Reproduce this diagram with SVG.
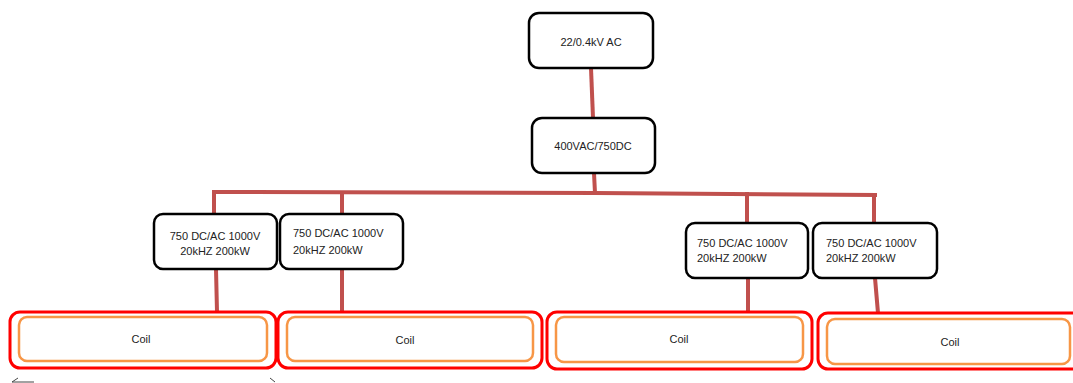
<svg xmlns="http://www.w3.org/2000/svg" width="1073" height="383" viewBox="0 0 1073 383">
<style>
.box{fill:#fff;stroke:#000;stroke-width:2.5}
.coilo{fill:#fff;stroke:#ff0000;stroke-width:3}
.coili{fill:#fff;stroke:#f79646;stroke-width:2.5}
.t{font-family:"Liberation Sans",Arial,sans-serif;font-size:11px;fill:#222}
.c{text-anchor:middle}
.w{fill:none;stroke:#c0504d;stroke-width:4;stroke-linecap:square}
</style>
<rect width="1073" height="383" fill="#fff"/>
<g id="connectors">
<path class="w" d="M591 68 L593 118"/>
<path class="w" d="M594 173 L595 193"/>
<path class="w" d="M214 192 L595 193 L875 195"/>
<path class="w" d="M214 192 L214 214"/>
<path class="w" d="M342 193 L342 214"/>
<path class="w" d="M747 194 L747 223"/>
<path class="w" d="M874 195 L874 223"/>
<path class="w" d="M216 269 L217 312"/>
<path class="w" d="M342 269 L342 312"/>
<path class="w" d="M748 278 L748 312"/>
<path class="w" d="M875 278 L878 313"/>
</g>
<g id="n_top"><rect class="box" x="529" y="13" width="124" height="55" rx="10"/><text class="t c" x="591" y="46">22/0.4kV AC</text></g>
<g id="n_conv"><rect class="box" x="532" y="118" width="123" height="55" rx="10"/><text class="t c" x="593" y="150">400VAC/750DC</text></g>
<g id="n_inv1"><rect class="box" x="154" y="214" width="123" height="55" rx="9"/><text class="t c" x="215" y="240">750  DC/AC 1000V</text><text class="t c" x="215" y="255">20kHZ 200kW</text></g>
<g id="n_inv2"><rect class="box" x="280" y="214" width="123" height="55" rx="9"/><text class="t" x="293" y="237">750  DC/AC 1000V</text><text class="t" x="293" y="254">20kHZ 200kW</text></g>
<g id="n_inv3"><rect class="box" x="686" y="223" width="122" height="55" rx="9"/><text class="t" x="697" y="247">750 DC/AC 1000V</text><text class="t" x="697" y="262">20kHZ 200kW</text></g>
<g id="n_inv4"><rect class="box" x="813" y="223" width="124" height="55" rx="9"/><text class="t" x="826" y="247">750  DC/AC 1000V</text><text class="t" x="826" y="262">20kHZ 200kW</text></g>
<g id="n_coil1"><rect class="coilo" x="10" y="312" width="266" height="56" rx="10"/><rect class="coili" x="19" y="317" width="248" height="44" rx="8"/><text class="t c" x="141" y="343">Coil</text></g>
<g id="n_coil2"><rect class="coilo" x="278" y="312" width="264" height="56" rx="10"/><rect class="coili" x="287" y="317" width="246" height="44" rx="8"/><text class="t c" x="405" y="344">Coil</text></g>
<g id="n_coil3"><rect class="coilo" x="547" y="312" width="265" height="57" rx="10"/><rect class="coili" x="556" y="317" width="247" height="45" rx="8"/><text class="t c" x="679" y="343">Coil</text></g>
<g id="n_coil4"><rect class="coilo" x="818" y="313" width="270" height="56" rx="10"/><rect class="coili" x="827" y="319" width="243" height="45" rx="8"/><text class="t c" x="950" y="346">Coil</text></g>
<g id="cut" fill="none" stroke="#444" stroke-width="1"><path d="M18 378 L12 382 L34 382"/><path d="M270 378 L275 382"/></g>
</svg>
